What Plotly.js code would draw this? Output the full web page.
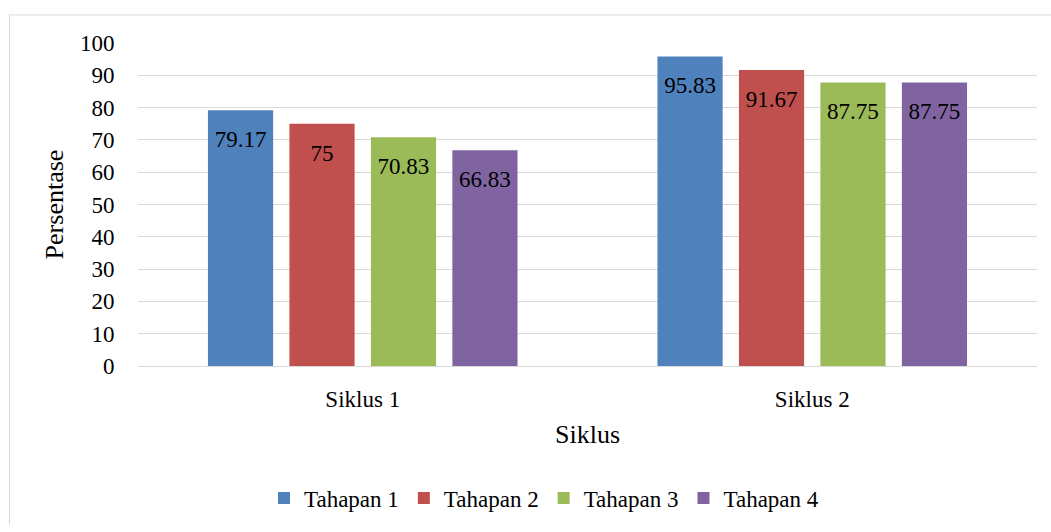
<!DOCTYPE html>
<html>
<head>
<meta charset="utf-8">
<script src="https://cdn.plot.ly/plotly-3.0.1.min.js"></script>
<style>
html,body{margin:0;padding:0;background:#fff;}
#chart{width:1051px;height:532px;}
</style>
</head>
<body>
<div id="chart"></div>
<script>
const categories = ["Siklus 1", "Siklus 2"];
const seriesNames = ["Tahapan 1", "Tahapan 2", "Tahapan 3", "Tahapan 4"];
const tahapan1 = [79.17, 95.83];
const tahapan2 = [75, 91.67];
const tahapan3 = [70.83, 87.75];
const tahapan4 = [66.83, 87.75];
const yTicks = [0, 10, 20, 30, 40, 50, 60, 70, 80, 90, 100];
const colors = ["#4F81BD", "#C0504D", "#9BBB59", "#8064A2"];

const seriesValues = [tahapan1, tahapan2, tahapan3, tahapan4];
const font = "Liberation Serif";

const traces = seriesValues.map((vals, i) => ({
  type: "bar",
  name: seriesNames[i],
  x: categories,
  y: vals,
  marker: {color: colors[i]},
  text: vals.map(v => String(v)),
  texttemplate: "<span style='font-size:5px'> </span><br>%{text}",
  textposition: "inside",
  insidetextanchor: "end",
  textangle: 0,
  insidetextfont: {family: font, size: 23, color: "#000"},
  hoverinfo: "none"
}));

const L = 138, T = 43, W = 899, H = 328;
const px = x => (x - L) / W;
const py = y => (T + H - y) / H;

const layout = {
  width: 1051,
  height: 532,
  margin: {l: L, r: 1051 - L - W, t: T, b: 532 - T - H},
  paper_bgcolor: "#fff",
  plot_bgcolor: "#fff",
  barmode: "group",
  bargap: 0.275,
  bargroupgap: 0.2,
  font: {family: font, color: "#000"},
  showlegend: true,
  legend: {
    orientation: "h",
    x: px(544), xanchor: "center",
    y: py(505), yanchor: "middle",
    font: {family: font, size: 23, color: "#000"},
    traceorder: "normal"
  },
  xaxis: {
    type: "category",
    tickfont: {family: font, size: 23, color: "#000"},
    showline: true, linecolor: "#d9d9d9", linewidth: 1,
    ticks: "outside", ticklen: 12, tickcolor: "rgba(0,0,0,0)",
    showgrid: false,
    title: {text: "Siklus", font: {family: font, size: 26, color: "#000"}, standoff: 14}
  },
  yaxis: {
    range: [0, 100],
    tickvals: yTicks,
    ticktext: yTicks.map(String),
    tickfont: {family: font, size: 23, color: "#000"},
    showgrid: true, gridcolor: "#d9d9d9", gridwidth: 1,
    zeroline: false, showline: false,
    ticks: "outside", ticklen: 18, tickcolor: "rgba(0,0,0,0)",
    title: {text: "Persentase", font: {family: font, size: 26, color: "#000"}, standoff: 8}
  },
  shapes: [
    {type: "line", xref: "paper", yref: "paper", x0: px(9.5), x1: px(1051), y0: py(14.5), y1: py(14.5), line: {color: "#d9d9d9", width: 1}},
    {type: "line", xref: "paper", yref: "paper", x0: px(9.5), x1: px(9.5), y0: py(14.5), y1: py(532), line: {color: "#d9d9d9", width: 1}}
  ]
};

Plotly.newPlot("chart", traces, layout, {displayModeBar: false, staticPlot: true});
</script>
</body>
</html>
